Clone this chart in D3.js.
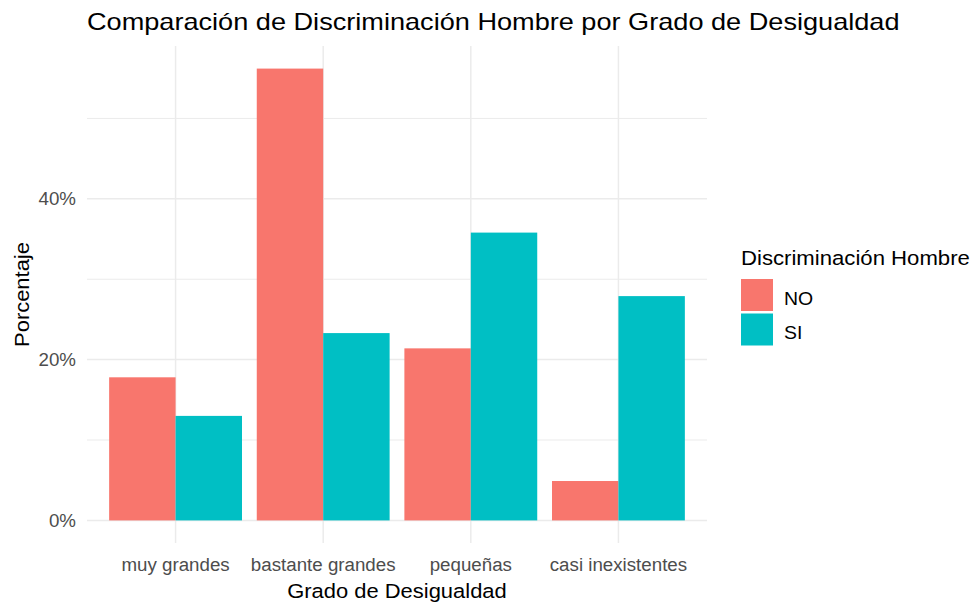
<!DOCTYPE html>
<html>
<head>
<meta charset="utf-8">
<script src="https://cdn.jsdelivr.net/npm/d3@7"></script>
<style>
  body { margin: 0; background: #fff; }
  svg { font-family: "Liberation Sans", Arial, sans-serif; }
</style>
</head>
<body>
<div id="chart"></div>
<script>
// data
const categories = ["muy grandes", "bastante grandes", "pequeñas", "casi inexistentes"];
const groups = ["NO", "SI"];
const valuesNO = [17.8, 56.2, 21.4, 4.9];
const valuesSI = [13.0, 23.3, 35.8, 27.9];
const majorTicks = [0, 20, 40];
const minorTicks = [10, 30, 50];
const colors = ["#F8766D", "#00BFC4"];

const width = 976, height = 602;
const panel = { left: 87, right: 707, top: 46, bottom: 543 };

const svg = d3.select("#chart").append("svg")
    .attr("width", width)
    .attr("height", height);

const rows = categories.map((c, i) => ({ cat: c, NO: valuesNO[i], SI: valuesSI[i] }));

// widen text a bit, the reference was rendered with wider glyphs
function stretch(sel, factor) {
    sel.each(function () {
        const len = this.getComputedTextLength();
        d3.select(this)
            .attr("textLength", len * factor)
            .attr("lengthAdjust", "spacingAndGlyphs");
    });
}

// scales (ggplot-like expansion)
const x = d3.scaleBand()
    .domain(categories)
    .range([panel.left, panel.right])
    .paddingInner(0.1)
    .paddingOuter(0.15);

const xSub = d3.scaleBand()
    .domain(groups)
    .range([0, x.bandwidth()])
    .padding(0);

const maxVal = d3.max(valuesNO.concat(valuesSI));
const pad = maxVal * 0.05;
const y = d3.scaleLinear()
    .domain([-pad, maxVal + pad])
    .range([panel.bottom, panel.top]);

const color = d3.scaleOrdinal().domain(groups).range(colors);

// grid
const grid = svg.append("g").attr("class", "grid");
grid.selectAll(".minor")
    .data(minorTicks)
    .enter().append("line")
    .attr("x1", panel.left).attr("x2", panel.right)
    .attr("y1", d => y(d)).attr("y2", d => y(d))
    .attr("stroke", "#EBEBEB").attr("stroke-width", 1);
grid.selectAll(".major")
    .data(majorTicks)
    .enter().append("line")
    .attr("x1", panel.left).attr("x2", panel.right)
    .attr("y1", d => y(d)).attr("y2", d => y(d))
    .attr("stroke", "#EBEBEB").attr("stroke-width", 1.5);
grid.selectAll(".vmajor")
    .data(categories)
    .enter().append("line")
    .attr("x1", d => x(d) + x.bandwidth() / 2).attr("x2", d => x(d) + x.bandwidth() / 2)
    .attr("y1", panel.top).attr("y2", panel.bottom)
    .attr("stroke", "#EBEBEB").attr("stroke-width", 1.5);

// bars
svg.append("g")
    .attr("class", "bars")
    .selectAll("g")
    .data(rows)
    .enter().append("g")
    .attr("transform", d => `translate(${x(d.cat)},0)`)
    .selectAll("rect")
    .data(d => groups.map(g => ({ key: g, value: d[g] })))
    .enter().append("rect")
    .attr("x", d => xSub(d.key))
    .attr("width", xSub.bandwidth())
    .attr("y", d => y(d.value))
    .attr("height", d => y(0) - y(d.value))
    .style("fill", d => color(d.key));

// axes
const yAxis = svg.append("g")
    .attr("transform", `translate(${panel.left},0)`)
    .call(d3.axisLeft(y).tickValues(majorTicks).tickFormat(d => d + "%").tickSize(0).tickPadding(11));
const xAxis = svg.append("g")
    .attr("transform", `translate(0,${panel.bottom})`)
    .call(d3.axisBottom(x).tickSize(0).tickPadding(15.5));
[xAxis, yAxis].forEach(a => {
    a.select(".domain").remove();
    a.selectAll("text")
        .style("font-family", "Liberation Sans, Arial, sans-serif")
        .style("font-size", "18px")
        .attr("fill", "#4D4D4D")
        .call(stretch, 1.04);
});

// titles
svg.append("text")
    .attr("x", panel.left)
    .attr("y", 29.5)
    .attr("font-size", 24)
    .attr("fill", "#000")
    .text("Comparación de Discriminación Hombre por Grado de Desigualdad")
    .call(stretch, 1.13);

svg.append("text")
    .attr("x", (panel.left + panel.right) / 2)
    .attr("y", 598)
    .attr("text-anchor", "middle")
    .attr("font-size", 20.5)
    .attr("fill", "#000")
    .text("Grado de Desigualdad")
    .call(stretch, 1.07);

svg.append("text")
    .attr("transform", `translate(29,${(panel.top + panel.bottom) / 2}) rotate(-90)`)
    .attr("text-anchor", "middle")
    .attr("font-size", 20.5)
    .attr("fill", "#000")
    .text("Porcentaje")
    .call(stretch, 1.07);

// legend
const legend = svg.append("g")
    .attr("class", "legend")
    .attr("transform", "translate(741,0)");
legend.append("text")
    .attr("x", 0)
    .attr("y", 265)
    .attr("font-size", 20.5)
    .attr("fill", "#000")
    .text("Discriminación Hombre")
    .call(stretch, 1.08);
const items = legend.selectAll(".item")
    .data(groups)
    .enter().append("g")
    .attr("transform", (d, i) => `translate(0,${279 + i * 34.5})`);
items.append("rect")
    .attr("width", 32)
    .attr("height", 32)
    .style("fill", d => color(d));
items.append("text")
    .attr("x", 43)
    .attr("y", 19.5)
    .attr("dy", "0.35em")
    .attr("font-size", 18)
    .attr("fill", "#000")
    .text(d => d)
    .call(stretch, 1.08);
</script>
</body>
</html>
